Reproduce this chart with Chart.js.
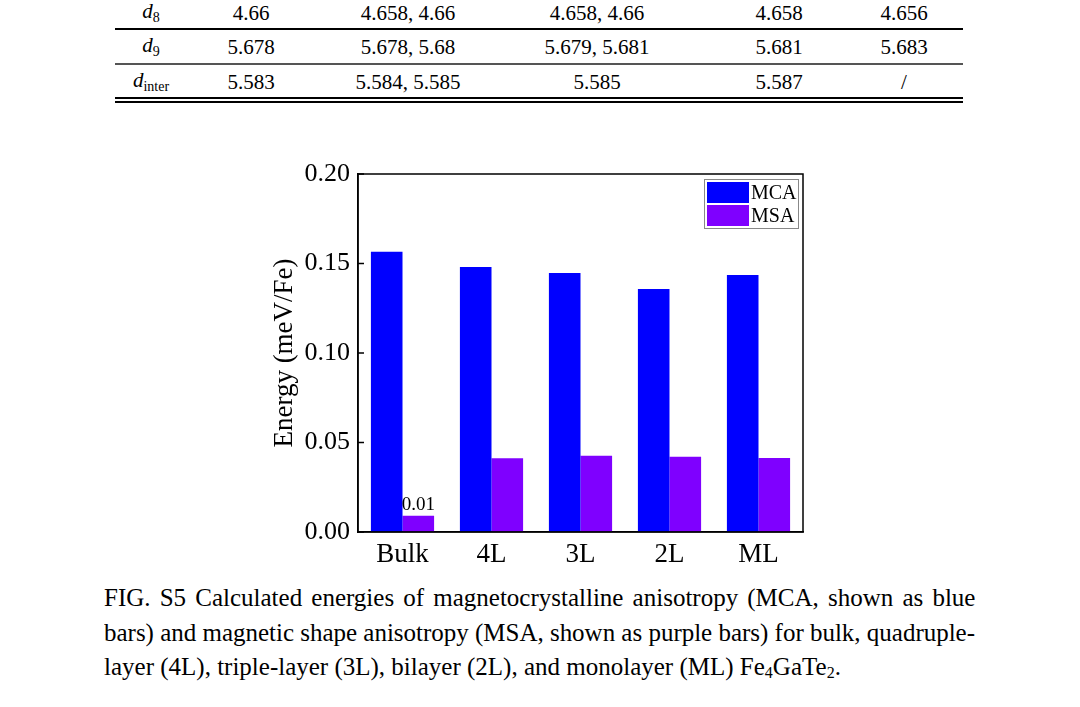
<!DOCTYPE html>
<html>
<head>
<meta charset="utf-8">
<script src="https://cdn.jsdelivr.net/npm/chart.js"></script>
<style>
    html, body { margin: 0; padding: 0; background: #fff; }
    body { width: 1080px; height: 707px; position: relative; overflow: hidden; font-family: "Liberation Serif", "Times New Roman", serif; color: #000; }
    .cell { position: absolute; font-family: "Liberation Serif", serif; font-size: 21px; line-height: 1; transform: translate(-50%, -50%); white-space: nowrap; }
    .cell i { font-style: italic; }
    .cell sub { font-size: 14px; vertical-align: -4px; font-style: normal; }
    .rule { position: absolute; left: 115px; width: 848px; background: #000; }
    .cap { position: absolute; left: 104px; width: 871px; font-size: 25px; line-height: 35px; white-space: nowrap; transform-origin: 0 26px; }
    .cap span { display: inline-block; }
    .cap sub { font-size: 16px; vertical-align: -3px; }
    #chart-wrap { position: absolute; left: 260px; top: 150px; width: 560px; height: 430px; }
</style>
</head>
<body>

<div id="table"></div>
<div class="rule" style="top:28px;height:1.5px;"></div>
<div class="rule" style="top:63px;height:1.5px;background:#555;"></div>
<div class="rule" style="top:97px;height:1.5px;"></div>
<div class="rule" style="top:101px;height:1.5px;"></div>

<div id="chart-wrap"><canvas id="energy-chart" width="560" height="430"></canvas></div>

<div class="cap" style="top:580px;"><span>FIG. S5 Calculated energies of magnetocrystalline anisotropy (MCA, shown as blue</span></div>
<div class="cap" style="top:615px;"><span>bars) and magnetic shape anisotropy (MSA, shown as purple bars) for bulk, quadruple-</span></div>
<div class="cap last" style="top:649px;"><span>layer (4L), triple-layer (3L), bilayer (2L), and monolayer (ML) Fe<sub>4</sub>GaTe<sub>2</sub>.</span></div>

<script>
// Chart data
const categories = ['Bulk', '4L', '3L', '2L', 'ML'];
const mcaValues = [0.1565, 0.148, 0.1447, 0.1358, 0.1436];
const msaValues = [0.0091, 0.0412, 0.0426, 0.0421, 0.0413];
const msaLabels = ['0.01', null, null, null, null];
const yTicks = [0, 0.05, 0.1, 0.15, 0.2];

// Table rows (top of the page, cut off)
const rowNames = ['<i>d</i><sub>8</sub>', '<i>d</i><sub>9</sub>', '<i>d</i><sub>inter</sub>'];
const rowValues = [
    ['4.66', '4.658, 4.66', '4.658, 4.66', '4.658', '4.656'],
    ['5.678', '5.678, 5.68', '5.679, 5.681', '5.681', '5.683'],
    ['5.583', '5.584, 5.585', '5.585', '5.587', '/']
];
const colX = [151, 251, 408, 597, 779, 904];
const rowY = [13, 47, 82];

const table = document.getElementById('table');
rowNames.forEach((name, r) => {
    const cells = [name, ...rowValues[r]];
    cells.forEach((txt, c) => {
        const el = document.createElement('div');
        el.className = 'cell';
        el.style.left = colX[c] + 'px';
        el.style.top = rowY[r] + 'px';
        el.innerHTML = txt;
        table.appendChild(el);
    });
});

// justify caption lines; squeeze a line if it's too long
const capWidth = 871;
document.querySelectorAll('.cap').forEach(el => {
    const span = el.firstElementChild;
    const w = span.offsetWidth;
    if (el.classList.contains('last')) return;
    if (w > capWidth) {
        el.style.transform = `scaleX(${capWidth / w})`;
    } else {
        const gaps = span.textContent.split(' ').length - 1;
        span.style.wordSpacing = ((capWidth - w) / gaps) + 'px';
    }
});

const serif = '"Liberation Serif", "Times New Roman", serif';

// frame, inward ticks, value label and legend
const decorations = {
    id: 'decorations',
    afterDatasetsDraw(chart) {
        const { ctx, chartArea: a } = chart;
        const yScale = chart.scales.y;
        ctx.save();
        ctx.strokeStyle = '#000';
        ctx.lineWidth = 1.5;
        ctx.strokeRect(a.left, a.top, a.right - a.left, a.bottom - a.top);
        ctx.beginPath();
        yScale.ticks.forEach((t, i) => {
            const py = yScale.getPixelForTick(i);
            ctx.moveTo(a.left, py);
            ctx.lineTo(a.left + 6, py);
        });
        ctx.stroke();

        // value label over MSA bars
        const meta = chart.getDatasetMeta(1);
        ctx.fillStyle = '#000';
        ctx.font = '19px ' + serif;
        ctx.textAlign = 'center';
        ctx.textBaseline = 'bottom';
        meta.data.forEach((bar, i) => {
            if (msaLabels[i]) ctx.fillText(msaLabels[i], bar.x, bar.y - 1);
        });

        // legend in top-right corner
        const bx = a.right - 99, by = a.top + 5;
        ctx.fillStyle = '#fff';
        ctx.fillRect(bx, by, 94, 49);
        ctx.strokeStyle = '#888';
        ctx.lineWidth = 1;
        ctx.strokeRect(bx + 0.5, by + 0.5, 94, 49);
        ctx.font = '20px ' + serif;
        ctx.textAlign = 'left';
        ctx.textBaseline = 'middle';
        chart.data.datasets.forEach((ds, i) => {
            const sy = by + 3 + i * 23;
            ctx.fillStyle = ds.backgroundColor;
            ctx.fillRect(bx + 3, sy, 42, 21);
            ctx.fillStyle = '#000';
            ctx.fillText(ds.label, bx + 47, sy + 11.5);
        });
        ctx.restore();
    }
};

new Chart(document.getElementById('energy-chart'), {
    type: 'bar',
    data: {
        labels: categories,
        datasets: [
            { label: 'MCA', data: mcaValues, backgroundColor: '#0000FF', borderWidth: 0 },
            { label: 'MSA', data: msaValues, backgroundColor: '#7F00FF', borderWidth: 0 }
        ]
    },
    options: {
        responsive: false,
        animation: false,
        devicePixelRatio: 1,
        categoryPercentage: 0.71,
        barPercentage: 1.0,
        layout: { padding: { top: 24, right: 17, left: 0, bottom: 0 } },
        plugins: { legend: { display: false }, tooltip: { enabled: false } },
        scales: {
            x: {
                afterFit(scale) { scale.height = 48; },
                grid: { drawOnChartArea: false, drawTicks: false },
                border: { display: true, color: '#000', width: 1.5 },
                ticks: { color: '#000', font: { family: serif, size: 27 }, padding: 7 }
            },
            y: {
                min: 0,
                max: 0.2,
                afterFit(scale) { scale.width = 98; },
                afterBuildTicks(scale) { scale.ticks = yTicks.map(v => ({ value: v })); },
                grid: { drawOnChartArea: false, drawTicks: false },
                border: { display: true, color: '#000', width: 1.5 },
                ticks: {
                    color: '#000',
                    font: { family: serif, size: 26 },
                    padding: 8,
                    callback: v => Number(v).toFixed(2)
                },
                title: {
                    display: true,
                    text: 'Energy (meV/Fe)',
                    color: '#000',
                    font: { family: serif, size: 27 },
                    padding: { top: 9, bottom: 0 }
                }
            }
        }
    },
    plugins: [decorations]
});
</script>
</body>
</html>
